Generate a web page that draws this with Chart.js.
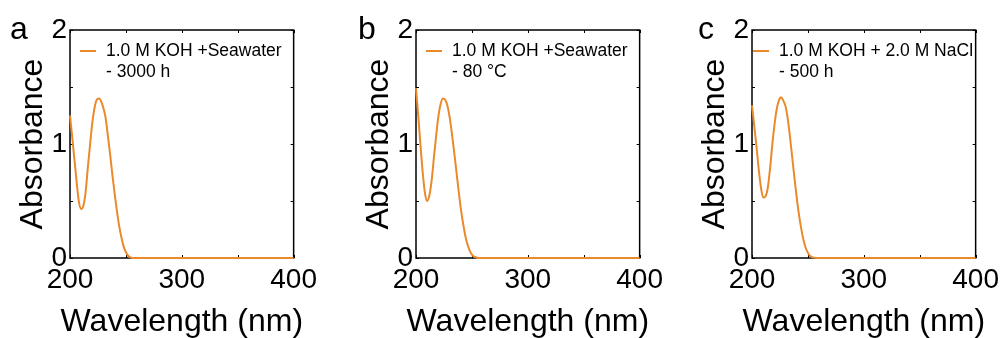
<!DOCTYPE html>
<html>
<head>
<meta charset="utf-8">
<script src="https://cdn.jsdelivr.net/npm/chart.js@4"></script>
<style>
  body { margin: 0; background: #fff; width: 1006px; height: 338px; position: relative; overflow: hidden; }
  canvas { position: absolute; top: 0; }
</style>
</head>
<body>
<canvas id="chart-a" width="322" height="338" style="left:0px"></canvas>
<canvas id="chart-b" width="322" height="338" style="left:346px"></canvas>
<canvas id="chart-c" width="322" height="338" style="left:682px"></canvas>
<script>
// wavelength (nm)
const wavelengths = [200, 202, 204, 206, 208, 210, 212, 214, 216, 218, 220, 222, 224, 226, 228, 230,
  232, 234, 236, 238, 240, 242, 244, 246, 248, 250, 252, 254, 256, 258, 260,
  280, 300, 320, 340, 360, 380, 400];

// absorbance, 1.0 M KOH + seawater, 3000 h
const absA = [1.25, 1.06, 0.86, 0.66, 0.49, 0.43, 0.46, 0.58, 0.80, 1.00, 1.19, 1.32, 1.39, 1.40, 1.37, 1.31,
  1.22, 1.06, 0.90, 0.72, 0.56, 0.41, 0.28, 0.18, 0.10, 0.05, 0.02, 0.005, 0, 0, 0,
  0, 0, 0, 0, 0, 0, 0];

// absorbance, 1.0 M KOH + seawater, 80 C
const absB = [1.49, 1.25, 0.99, 0.75, 0.57, 0.50, 0.55, 0.68, 0.88, 1.07, 1.24, 1.35, 1.40, 1.39, 1.34, 1.24,
  1.10, 0.94, 0.77, 0.60, 0.44, 0.31, 0.20, 0.12, 0.065, 0.03, 0.012, 0.004, 0, 0, 0,
  0, 0, 0, 0, 0, 0, 0];

// absorbance, 1.0 M KOH + 2.0 M NaCl, 500 h
const absC = [1.34, 1.16, 0.98, 0.78, 0.62, 0.53, 0.54, 0.61, 0.77, 0.98, 1.16, 1.30, 1.38, 1.41, 1.38, 1.33,
  1.22, 1.06, 0.88, 0.70, 0.53, 0.38, 0.26, 0.16, 0.09, 0.045, 0.018, 0.006, 0.001, 0, 0,
  0, 0, 0, 0, 0, 0, 0];

const xTicks = [200, 300, 400];
const yTicks = [0, 1, 2];

const legendA = ["1.0 M KOH +Seawater", "- 3000 h"];
const legendB = ["1.0 M KOH +Seawater", "- 80 \u00B0C"];
const legendC = ["1.0 M KOH + 2.0 M NaCl", "- 500 h"];

const FONT = "'Liberation Sans', Arial, sans-serif";
const ORANGE = "#EB8A2B";

// frame, inward ticks, x title, legend and panel letter
const decor = {
  id: "decor",
  beforeDatasetsDraw(chart, args, opts) {
    const { ctx, chartArea: a, scales } = chart;
    ctx.save();
    ctx.strokeStyle = "#000";
    ctx.lineWidth = 1.5;
    ctx.strokeRect(a.left, a.top, a.right - a.left, a.bottom - a.top);
    ctx.lineWidth = 1;
    for (let v = 0; v <= 2; v += 0.5) {
      const y = Math.round(scales.y.getPixelForValue(v)) + 0.5;
      ctx.beginPath();
      ctx.moveTo(a.left, y); ctx.lineTo(a.left + 3, y);
      ctx.moveTo(a.right, y); ctx.lineTo(a.right - 3, y);
      ctx.stroke();
    }
    for (let v = 200; v <= 400; v += 50) {
      const x = Math.round(scales.x.getPixelForValue(v)) + 0.5;
      ctx.beginPath();
      ctx.moveTo(x, a.bottom); ctx.lineTo(x, a.bottom - 3);
      ctx.moveTo(x, a.top); ctx.lineTo(x, a.top + 3);
      ctx.stroke();
    }
    ctx.restore();
  },
  afterDraw(chart, args, opts) {
    const { ctx, chartArea: a } = chart;
    ctx.save();
    ctx.fillStyle = "#000";
    // x axis title (drawn here so it is not squeezed to the plot width)
    ctx.font = "32px " + FONT;
    ctx.textAlign = "center";
    ctx.textBaseline = "alphabetic";
    ctx.fillText("Wavelength (nm)", (a.left + a.right) / 2, 331);
    // legend
    const lx = a.left + opts.legendDx;
    ctx.strokeStyle = ORANGE;
    ctx.lineWidth = 2;
    ctx.beginPath();
    ctx.moveTo(lx, a.top + 21);
    ctx.lineTo(lx + 16, a.top + 21);
    ctx.stroke();
    ctx.font = "17.5px " + FONT;
    ctx.textBaseline = "middle";
    ctx.textAlign = "left";
    opts.lines.forEach((t, i) => ctx.fillText(t, lx + 26, a.top + 21 + i * 21));
    // panel letter
    ctx.font = "32px " + FONT;
    ctx.textBaseline = "alphabetic";
    ctx.fillText(opts.letter, a.left + opts.letterDx, 38.5);
    ctx.restore();
  }
};

function makePanel(id, values, lines, letter, letterDx, legendDx) {
  const ctx = document.getElementById(id).getContext("2d");
  return new Chart(ctx, {
    type: "line",
    data: {
      datasets: [{
        data: wavelengths.map((w, i) => ({ x: w, y: values[i] })),
        borderColor: ORANGE,
        borderWidth: 2,
        pointRadius: 0,
        cubicInterpolationMode: "monotone",
        clip: 3,
      }],
    },
    options: {
      responsive: false,
      animation: false,
      devicePixelRatio: 1,
      layout: { padding: { left: 0, top: 30, right: 25, bottom: 0 } },
      plugins: {
        legend: { display: false },
        tooltip: { enabled: false },
        decor: { lines: lines, letter: letter, letterDx: letterDx, legendDx: legendDx },
      },
      scales: {
        x: {
          type: "linear",
          min: 200,
          max: 400,
          afterBuildTicks: (s) => { s.ticks = xTicks.map((v) => ({ value: v })); },
          afterFit: (s) => { s.height = 80; },
          ticks: { color: "#000", font: { family: FONT, size: 28 }, padding: 5, maxRotation: 0 },
          grid: { display: false, drawTicks: false },
          border: { display: false },
          title: { display: false },
        },
        y: {
          min: 0,
          max: 2,
          afterBuildTicks: (s) => { s.ticks = yTicks.map((v) => ({ value: v })); },
          afterFit: (s) => { s.width = 70; },
          ticks: { color: "#000", font: { family: FONT, size: 28 }, padding: 3 },
          grid: { display: false, drawTicks: false },
          border: { display: false },
          title: { display: true, text: "Absorbance", color: "#000", font: { family: FONT, size: 32 }, padding: { top: 14, bottom: 0 } },
        },
      },
    },
    plugins: [decor],
  });
}

makePanel("chart-a", absA, legendA, "a", -60, 10);
makePanel("chart-b", absB, legendB, "b", -58, 10);
makePanel("chart-c", absC, legendC, "c", -54, 1);
</script>
</body>
</html>
